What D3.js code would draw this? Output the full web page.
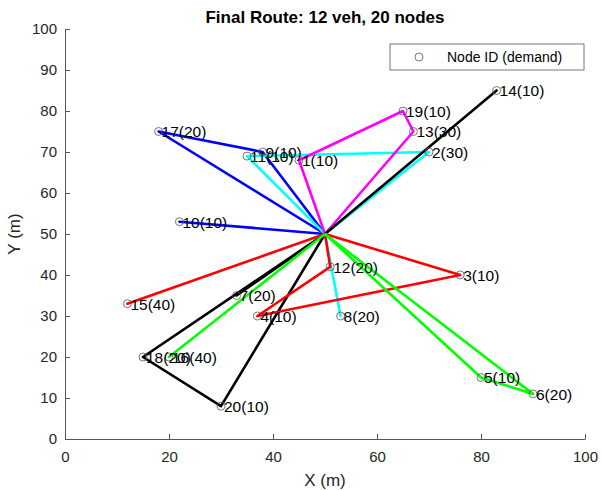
<!DOCTYPE html>
<html>
<head>
<meta charset="utf-8">
<script src="https://cdn.jsdelivr.net/npm/d3@7"></script>
<style>
body { margin: 0; background: #fff; }
svg { font-family: "Liberation Sans", Arial, sans-serif; }
</style>
</head>
<body>
<svg id="chart" width="602" height="490"></svg>
<script>
// node data: id, x, y, demand
const nodeIds = [1, 2, 3, 4, 5, 6, 7, 8, 9, 10, 11, 12, 13, 14, 15, 16, 17, 18, 19, 20];
const nodeX = [45, 70, 76, 37, 80, 90, 33, 53, 38, 22, 35, 51, 67, 83, 12, 20, 18, 15, 65, 30];
const nodeY = [68, 70, 40, 30, 15, 11, 35, 30, 70, 53, 69, 42, 75, 85, 33, 20, 75, 20, 80, 8];
const demand = [10, 30, 10, 10, 10, 20, 20, 20, 10, 10, 10, 20, 30, 10, 40, 40, 20, 20, 10, 10];
const depot = [50, 50];

// routes (0 = depot) and their colours
const routes = [
	[0, 17, 9, 0],
	[0, 10, 0],
	[0, 11, 2, 0],
	[0, 8, 0],
	[0, 1, 19, 13, 0],
	[0, 14, 0],
	[0, 7, 0],
	[0, 18, 20, 0],
	[0, 15, 0],
	[0, 12, 4, 3, 0],
	[0, 16, 0],
	[0, 5, 6, 0]
];
const routeColors = ["#0000ff", "#0000ff", "#00ffff", "#00ffff", "#ff00ff", "#000000",
	"#000000", "#000000", "#ff0000", "#ff0000", "#00ff00", "#00ff00"];

const xTicks = [0, 20, 40, 60, 80, 100];
const yTicks = [0, 10, 20, 30, 40, 50, 60, 70, 80, 90, 100];

const chart = d3.select("#chart");
const padL = 65, padR = 585, padT = 29, padB = 439;
const axisColor = "#555";

const x = d3.scaleLinear().domain([0, 100]).range([padL, padR]);
const y = d3.scaleLinear().domain([0, 100]).range([padB, padT]);

function pt(id) {
	if (id === 0) return depot;
	const i = nodeIds.indexOf(id);
	return [nodeX[i], nodeY[i]];
}

// axes
const xAxis = chart.append("g")
	.attr("transform", "translate(0," + padB + ")")
	.call(d3.axisBottom(x).tickValues(xTicks).tickSize(-5).tickPadding(12).tickSizeOuter(0));
const yAxis = chart.append("g")
	.attr("transform", "translate(" + padL + ",0)")
	.call(d3.axisLeft(y).tickValues(yTicks).tickSize(-5).tickPadding(8).tickSizeOuter(0));
[xAxis, yAxis].forEach(function(a) {
	a.select(".domain").attr("stroke", axisColor);
	a.selectAll(".tick line").attr("stroke", axisColor);
	a.selectAll(".tick text").attr("fill", "#262626").attr("font-size", 15)
		.attr("font-family", "'Liberation Sans', Arial, sans-serif");
});

// route lines
const line = d3.line().x(function(d) { return x(pt(d)[0]); }).y(function(d) { return y(pt(d)[1]); });
chart.append("g").selectAll("path")
	.data(routes)
	.enter()
	.append("path")
	.attr("d", line)
	.attr("fill", "none")
	.attr("stroke", function(d, i) { return routeColors[i]; })
	.attr("stroke-width", 2.6)
	.attr("stroke-linejoin", "round");

// node markers
chart.append("g").selectAll("circle")
	.data(nodeIds)
	.enter()
	.append("circle")
	.attr("cx", function(d, i) { return x(nodeX[i]); })
	.attr("cy", function(d, i) { return y(nodeY[i]); })
	.attr("r", 4)
	.attr("fill", "none")
	.attr("stroke", "#555")
	.attr("stroke-width", 0.8);

// labels
chart.append("g").selectAll("text")
	.data(nodeIds)
	.enter()
	.append("text")
	.attr("x", function(d, i) { return x(nodeX[i]) + 3; })
	.attr("y", function(d, i) { return y(nodeY[i]); })
	.attr("dy", "0.38em")
	.attr("font-size", 15.5)
	.attr("fill", "#000")
	.text(function(d, i) { return d + "(" + demand[i] + ")"; });

// title and axis labels
chart.append("text")
	.attr("x", (padL + padR) / 2).attr("y", 23)
	.attr("text-anchor", "middle").attr("font-size", 17).attr("font-weight", "bold")
	.attr("fill", "#000")
	.text("Final Route: 12 veh, 20 nodes");
chart.append("text")
	.attr("x", (padL + padR) / 2).attr("y", 486)
	.attr("text-anchor", "middle").attr("font-size", 17).attr("fill", "#262626")
	.text("X (m)");
chart.append("text")
	.attr("transform", "translate(20," + ((padT + padB) / 2) + ") rotate(-90)")
	.attr("text-anchor", "middle").attr("font-size", 17).attr("fill", "#262626")
	.text("Y (m)");

// legend
const legend = chart.append("g");
legend.append("rect")
	.attr("x", 390).attr("y", 44).attr("width", 194).attr("height", 26)
	.attr("fill", "#fff").attr("stroke", "#555").attr("stroke-width", 0.8);
legend.append("circle")
	.attr("cx", 419).attr("cy", 57).attr("r", 4)
	.attr("fill", "none").attr("stroke", "#555").attr("stroke-width", 0.8);
legend.append("text")
	.attr("x", 447).attr("y", 57).attr("dy", "0.36em")
	.attr("font-size", 14).attr("fill", "#000")
	.text("Node ID (demand)");
</script>
</body>
</html>
